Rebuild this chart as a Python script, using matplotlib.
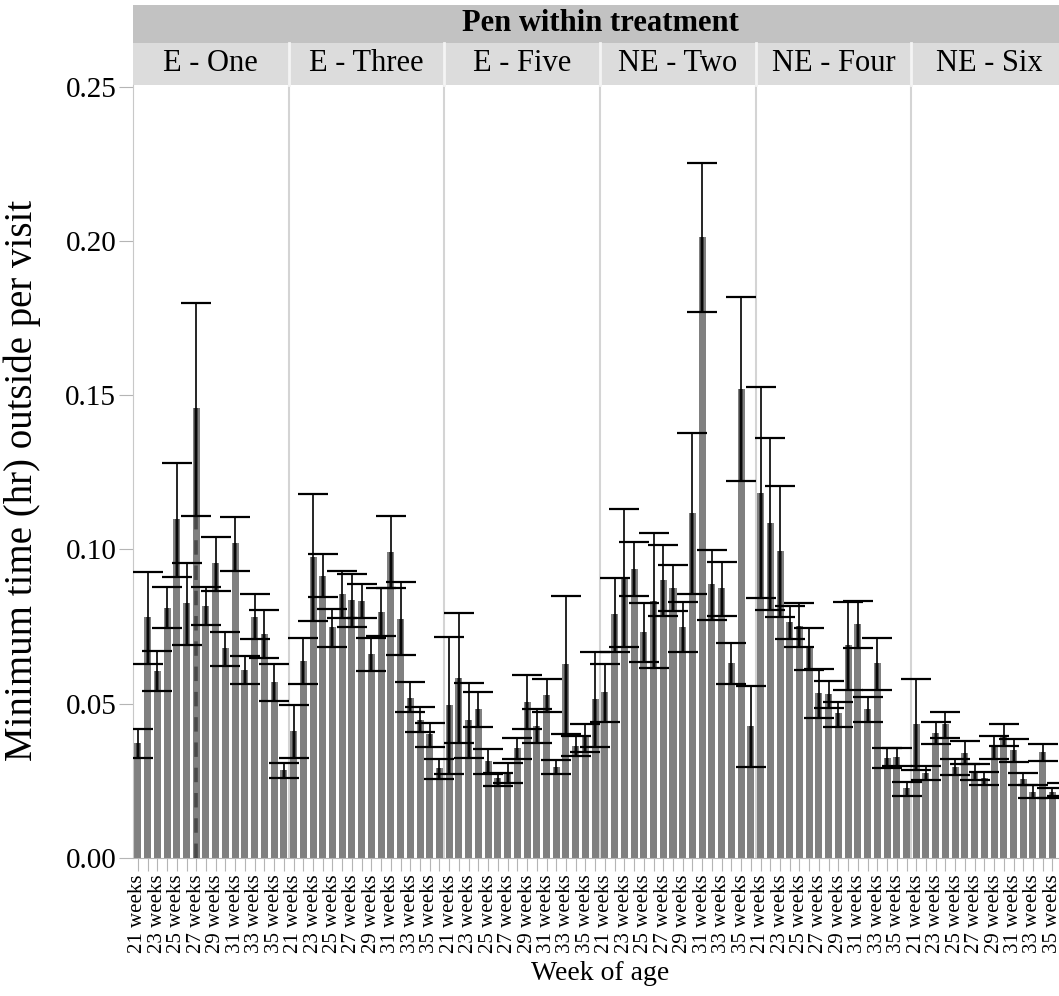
import matplotlib
matplotlib.use("Agg")
import matplotlib.pyplot as plt
import matplotlib.transforms as mtransforms
from matplotlib.patches import Rectangle
import numpy as np

plt.rcParams['font.family'] = ['Liberation Serif', 'DejaVu Serif']

pens = ["E - One", "E - Three", "E - Five", "NE - Two", "NE - Four", "NE - Six"]
weeks = list(range(21, 37))

# mean minimum time outside per visit (hr), one list per pen
e_one = [0.0373, 0.078, 0.0606, 0.081, 0.110, 0.0827, 0.146, 0.0817,
         0.0957, 0.068, 0.102, 0.061, 0.078, 0.0726, 0.057, 0.0285]
e_three = [0.0412, 0.0639, 0.0976, 0.0914, 0.0749, 0.0856, 0.0836, 0.0833,
           0.066, 0.0797, 0.0992, 0.0775, 0.0519, 0.0447, 0.0402, 0.0292]
e_five = [0.0496, 0.0584, 0.0447, 0.0483, 0.0315, 0.0259, 0.0276, 0.0357,
          0.0506, 0.0428, 0.0529, 0.0295, 0.0629, 0.0363, 0.0392, 0.0516]
ne_two = [0.0538, 0.0791, 0.0908, 0.0937, 0.0733, 0.0833, 0.0901, 0.0875,
          0.0749, 0.1119, 0.2014, 0.0888, 0.0875, 0.0632, 0.152, 0.0428]
ne_four = [0.1184, 0.1086, 0.0996, 0.0765, 0.0752, 0.068, 0.0535, 0.0532,
           0.047, 0.0691, 0.0759, 0.0483, 0.0632, 0.0324, 0.0328, 0.0227]
ne_six = [0.0434, 0.0276, 0.0405, 0.0434, 0.0295, 0.034, 0.0279, 0.0259,
          0.036, 0.0396, 0.035, 0.0256, 0.0214, 0.0344, 0.0214, 0.0222]

# upper / lower ends of the error bars
e_one_hi = [0.0418, 0.0927, 0.067, 0.0879, 0.128, 0.0956, 0.180, 0.0879,
            0.104, 0.0733, 0.1106, 0.0655, 0.0856, 0.0804, 0.063, 0.0308]
e_one_lo = [0.0324, 0.063, 0.054, 0.0746, 0.091, 0.069, 0.111, 0.0755,
            0.0866, 0.0623, 0.093, 0.0564, 0.071, 0.0648, 0.051, 0.026]
e_three_hi = [0.0496, 0.0713, 0.118, 0.0986, 0.0807, 0.093, 0.092, 0.0888,
              0.0713, 0.0875, 0.111, 0.0895, 0.057, 0.049, 0.0438, 0.032]
e_three_lo = [0.0324, 0.0564, 0.0768, 0.0846, 0.0684, 0.0778, 0.0749, 0.0778,
              0.0606, 0.072, 0.0875, 0.0658, 0.0473, 0.0409, 0.036, 0.0256]
e_five_hi = [0.0717, 0.0794, 0.0567, 0.0538, 0.0353, 0.0276, 0.0308, 0.0389,
             0.0593, 0.0483, 0.058, 0.0318, 0.085, 0.0396, 0.0434, 0.0668]
e_five_lo = [0.0272, 0.0373, 0.0324, 0.0425, 0.0272, 0.0233, 0.0243, 0.0321,
             0.0418, 0.0373, 0.0473, 0.0272, 0.0402, 0.0331, 0.0344, 0.036]
ne_two_hi = [0.0629, 0.0908, 0.1132, 0.1025, 0.0827, 0.1054, 0.1015, 0.095,
             0.083, 0.1378, 0.2254, 0.0999, 0.096, 0.0697, 0.182, 0.0558]
ne_two_lo = [0.0441, 0.0668, 0.0684, 0.085, 0.0636, 0.0616, 0.0785, 0.0801,
             0.0668, 0.0856, 0.177, 0.0772, 0.0785, 0.0564, 0.1222, 0.0295]
ne_four_hi = [0.1527, 0.1362, 0.1206, 0.0817, 0.0827, 0.0746, 0.0613, 0.0574,
              0.0506, 0.083, 0.0833, 0.0522, 0.0713, 0.0357, 0.0357, 0.0246]
ne_four_lo = [0.0843, 0.0804, 0.0781, 0.071, 0.0684, 0.061, 0.0454, 0.0486,
              0.0425, 0.0545, 0.068, 0.0441, 0.0545, 0.0292, 0.0298, 0.0201]
ne_six_hi = [0.058, 0.0298, 0.0441, 0.0473, 0.0321, 0.0379, 0.0305, 0.0279,
             0.0396, 0.0434, 0.0386, 0.0276, 0.0237, 0.037, 0.0227, 0.0243]
ne_six_lo = [0.0285, 0.0253, 0.037, 0.0389, 0.0269, 0.0305, 0.0253, 0.0237,
             0.0321, 0.0363, 0.0311, 0.0237, 0.0195, 0.0315, 0.0195, 0.0201]

means = [e_one, e_three, e_five, ne_two, ne_four, ne_six]
highs = [e_one_hi, e_three_hi, e_five_hi, ne_two_hi, ne_four_hi, ne_six_hi]
lows = [e_one_lo, e_three_lo, e_five_lo, ne_two_lo, ne_four_lo, ne_six_lo]

nw = len(weeks)
fig = plt.figure(figsize=(10.59, 9.96), dpi=100)
ax = fig.add_axes([0.1256, 0.1386, 0.882, 0.7761])

bar_col = '#808080'
for p in range(len(pens)):
    x = np.arange(nw) + p * nw
    m = np.array(means[p])
    hi = np.array(highs[p])
    lo = np.array(lows[p])
    ax.bar(x, m, width=0.72, color=bar_col, zorder=2)
    # darker stroke where the interval overlaps the bar
    ax.vlines(x, lo, m, color='#383838', lw=2.6, zorder=3)
    ax.errorbar(x, m, yerr=[m - lo, hi - m], fmt='none', ecolor='black',
                elinewidth=1.2, capsize=10.5, capthick=1.6, zorder=4)

# highlighted bar (E - One, 27 weeks)
ax.vlines(6, 0, e_one_lo[6], color='#4a4a4a', lw=2.6,
          linestyles=(0, (4, 3)), zorder=3)

# panel separators
for p in range(1, len(pens)):
    ax.axvline(p * nw - 0.5, color='#d4d4d4', lw=1.5, zorder=1)

ax.set_xlim(-0.5, len(pens) * nw - 0.5)
ax.set_ylim(0, 0.2506)
ax.set_yticks([0, 0.05, 0.10, 0.15, 0.20, 0.25])
ax.set_yticklabels(['0.00', '0.05', '0.10', '0.15', '0.20', '0.25'])

xt = np.arange(len(pens) * nw)
ax.set_xticks(xt)
ax.set_xticklabels([f"{weeks[i % nw]} weeks" if (i % nw) % 2 == 0 else ""
                    for i in xt], rotation=90)
ax.tick_params(axis='x', length=9, color='#b5b5b5', pad=3, labelsize=15)
ax.tick_params(axis='y', length=10, color='#b5b5b5', labelsize=21, pad=2)

for s in ['top', 'right']:
    ax.spines[s].set_visible(False)
ax.spines['left'].set_color('#c8c8c8')
ax.spines['bottom'].set_color('#b5b5b5')

ax.set_xlabel("Week of age", fontsize=20)
ax.xaxis.set_label_coords(0.5, -0.133)
ax.set_ylabel("Minimum time (hr) outside per visit", fontsize=28)
ax.yaxis.set_label_coords(-0.0985, 0.489)

# facet header strips
trans = mtransforms.blended_transform_factory(ax.transData, ax.transAxes)
h = ax.bbox.height
row2 = 42 / h
row1 = 38 / h
x0 = -0.5
x1 = len(pens) * nw - 0.5
ax.add_patch(Rectangle((x0, 1 + row2), x1 - x0, row1, transform=trans,
                       facecolor='#c2c2c2', edgecolor='none', clip_on=False))
ax.text((x0 + x1) / 2, 1 + row2 + row1 / 2, "Pen within treatment",
        transform=trans, ha='center', va='center', fontsize=22,
        fontweight='bold')
for p, name in enumerate(pens):
    a = p * nw - 0.5
    ax.add_patch(Rectangle((a, 1), nw, row2, transform=trans,
                           facecolor='#dcdcdc', edgecolor='none',
                           clip_on=False))
    ax.text(a + nw / 2, 1 + row2 / 2, name, transform=trans, ha='center',
            va='center', fontsize=22)
    if p > 0:
        ax.plot([a, a], [1, 1 + row2], transform=trans, color='#f4f4f4',
                lw=2, clip_on=False)

fig.savefig('out.png', dpi=100)
